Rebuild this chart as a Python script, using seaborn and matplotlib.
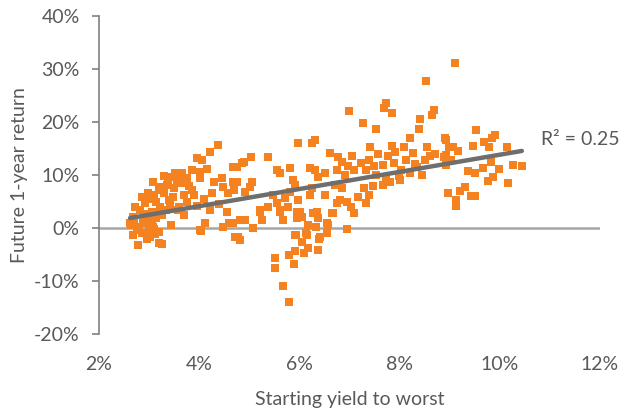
import numpy as np
import pandas as pd
import matplotlib
matplotlib.use("Agg")
import matplotlib.pyplot as plt
from matplotlib.ticker import FuncFormatter
import seaborn as sns

# Starting yield to worst (%) and future 1-year return (%)
yield_left = [4.38, 4.22, 3.96, 4.06, 3.86, 4.02, 3.52, 3.66, 3.08, 3.38, 3.66, 4.02, 4.46, 4.48, 4.68, 4.68,
              3.2, 3.3, 2.98, 3.48, 3.7, 3.86, 3.9, 4.26, 4.58, 2.92, 3.14, 3.42, 3.76, 2.82, 3.06, 4.22,
              4.56, 2.68, 3.26, 3.7, 4.12, 4.02, 4.48, 3.44, 2.62, 2.88, 3.08, 2.68, 2.92, 3.2, 2.78, 3.2,
              3.02, 3.14, 2.98, 3.34, 3.58, 4.72, 4.82, 4.92, 5.08, 5.22, 3.26, 4.04,
              2.64, 2.7, 2.75, 2.8, 2.85, 2.9, 2.95, 3.0, 3.05, 3.1, 3.15, 3.0, 3.1, 3.25, 3.35, 3.45,
              3.55, 3.6, 3.5, 3.4, 3.6, 3.8, 3.95, 4.1, 4.3, 4.4, 4.15, 3.3, 3.75, 2.95, 3.12, 2.72,
              2.85, 3.22, 4.6, 4.9]
return_left = [15.7, 14.4, 13.3, 12.9, 11.0, 10.6, 10.4, 10.4, 8.7, 9.1, 8.5, 9.5, 9.5, 7.8, 11.6, 8.7,
               7.8, 6.6, 6.6, 5.9, 6.3, 7.2, 6.3, 6.6, 6.6, 4.7, 4.9, 4.4, 4.9, 3.4, 3.0, 3.4,
               3.0, 2.1, 2.5, 2.5, 0.9, -0.4, 0.2, 0.6, 0.9, 1.1, 0.2, -1.3, -0.9, -0.8, -3.2, -2.9,
               -1.7, 1.9, 2.1, 3.4, 3.4, -1.7, -2.3, 1.5, 0.0, 3.0, -3.0, -0.6,
               0.5, 1.2, -0.3, 0.2, -1.0, 2.6, 0.9, -0.5, 1.6, -0.2, 2.8, 5.5, 6.2, 7.1, 8.2, 9.6,
               8.8, 10.0, 7.5, 5.2, 4.0, 8.0, 4.2, 5.5, 8.6, 4.5, 11.2, 9.9, 9.5, -2.0, -1.2, 4.0,
               5.8, 4.0, 1.0, 12.4]

yield_mid = [5.98, 6.26, 6.32, 5.04, 5.38, 4.76, 4.86, 5.56, 5.62, 5.82, 6.22, 6.32, 6.62, 6.78, 6.86, 6.76,
             6.52, 6.38, 4.76, 5.06, 5.02, 4.7, 4.92, 5.88, 5.92, 5.82, 6.26, 6.22, 6.52, 6.72, 6.82, 5.48,
             5.56, 5.72, 5.98, 5.38, 5.62, 5.78, 5.22, 5.96, 6.36, 6.66, 5.26, 5.96, 6.38, 6.56, 4.82, 4.68,
             6.18, 5.92, 6.16, 6.42, 4.78, 6.06, 5.68,
             5.52, 5.52, 5.68, 5.8, 5.8, 5.9, 5.92, 5.94, 6.06, 6.1, 6.14, 6.18, 6.38, 6.4, 6.96, 6.34,
             6.56, 6.58, 6.68, 7.08, 7.32, 6.76, 6.28, 5.62, 6.02]
return_mid = [16.1, 16.1, 16.7, 13.4, 13.4, 11.6, 12.3, 11.0, 10.4, 11.4, 11.4, 11.0, 14.2, 13.4, 12.5, 11.0,
              10.4, 9.7, 8.7, 8.7, 7.8, 7.2, 6.8, 9.1, 8.1, 6.8, 7.6, 6.3, 6.3, 8.1, 5.3, 6.3,
              4.7, 5.7, 5.3, 4.0, 3.0, 4.0, 3.4, 3.0, 3.0, 2.8, 1.5, 1.9, 1.9, 0.9, 1.5, 0.9,
              0.6, -1.3, -1.3, -1.7, -1.7, 2.1, 1.5,
              -5.7, -7.6, -11.0, -14.0, -5.1, -6.8, -4.4, -1.3, -2.7, -4.7, -1.0, -3.8, -4.2, -2.1, -0.2, 0.2,
              -1.0, 0.6, 2.8, 2.8, 4.7, 4.7, 2.8, 3.4, 3.0]

yield_right = [8.52, 7.72, 7.68, 7.84, 7.0, 8.68, 8.64, 7.26, 8.4, 7.52, 8.38, 8.2, 8.9, 8.54, 7.4, 7.04,
               7.84, 8.08, 8.26, 7.9, 7.56, 7.76, 8.12, 7.38, 7.22, 6.98, 7.48, 7.66, 7.88, 8.02, 7.08, 7.32,
               6.92, 7.52, 7.72, 7.98, 8.88, 8.98, 6.86, 7.28, 7.46, 7.66, 7.16, 7.38, 6.96, 7.02, 8.96,
               8.2, 8.35, 8.5, 8.6, 8.45, 8.7, 7.8, 8.0, 8.3,
               9.1, 9.52, 9.9, 9.84, 9.68, 9.06, 9.46, 9.16, 9.78, 10.14, 8.92, 9.02, 8.92, 8.92, 9.82, 9.66,
               9.36, 9.5, 9.98, 10.26, 10.44, 9.86, 9.76, 10.16, 9.3, 9.2, 9.12, 9.12, 9.42, 9.5]
return_right = [27.7, 23.6, 22.7, 21.7, 22.0, 22.3, 21.4, 19.9, 20.5, 18.7, 18.7, 16.9, 16.9, 15.2, 15.2, 13.6,
                15.5, 15.2, 14.2, 14.4, 14.0, 13.6, 12.9, 12.9, 12.3, 11.7, 11.7, 11.9, 12.3, 11.0, 11.0, 11.0,
                10.0, 10.0, 9.5, 9.8, 13.4, 15.3, 7.6, 7.6, 8.0, 8.1, 5.9, 6.3, 4.9, 4.0, 6.6,
                10.4, 11.5, 12.8, 13.6, 10.0, 14.0, 8.6, 9.0, 12.0,
                31.1, 18.4, 17.6, 16.9, 16.3, 15.3, 15.5, 14.6, 15.2, 15.2, 16.7, 12.9, 13.8, 11.9, 12.5, 11.4,
                10.8, 10.4, 11.2, 11.9, 11.7, 9.7, 8.9, 8.5, 7.8, 7.0, 5.3, 4.2, 6.1, 6.1]

r2_label = "R\u00b2 = 0.25"
x_ticks = [2, 4, 6, 8, 10, 12]
y_ticks = [-20, -10, 0, 10, 20, 30, 40]

df = pd.DataFrame({
    "yield": yield_left + yield_mid + yield_right,
    "ret": return_left + return_mid + return_right,
})

sns.set_theme(style="white")
plt.rcParams["font.family"] = ["Lato", "DejaVu Sans"]

orange = "#F58220"
text_gray = "#595959"
fsize = 14

fig = plt.figure(figsize=(6.21, 4.17), dpi=100)
ax = fig.add_axes([0.1594, 0.199, 0.8068, 0.7626])

sns.scatterplot(data=df, x="yield", y="ret", marker="s", s=32, color=orange,
                linewidth=0, ax=ax, zorder=3)
ax.axhline(0, color="#A6A6A6", lw=1.8, zorder=2)
sns.regplot(data=df, x="yield", y="ret", scatter=False, ci=None, truncate=True, ax=ax,
            line_kws={"color": "#6E6E6E", "lw": 3.2, "solid_capstyle": "round", "zorder": 4})

ax.text(10.83, 16.7, r2_label, ha="left", va="center", fontsize=fsize, color=text_gray)

ax.set_xlim(2, 12)
ax.set_ylim(-20, 40)
ax.set_xticks(x_ticks)
ax.set_yticks(y_ticks)
fmt = FuncFormatter(lambda v, p: f"{v:.0f}%")
ax.xaxis.set_major_formatter(fmt)
ax.yaxis.set_major_formatter(fmt)

for s in ["top", "right", "bottom"]:
    ax.spines[s].set_visible(False)
ax.spines["left"].set_color("#808080")
ax.spines["left"].set_linewidth(1.2)

ax.tick_params(axis="x", length=0, pad=16, labelsize=fsize, labelcolor=text_gray)
ax.tick_params(axis="y", left=True, length=5, width=1.2, color="#808080", pad=9,
               labelsize=fsize, labelcolor=text_gray)

ax.set_xlabel("Starting yield to worst", fontsize=fsize, color=text_gray, labelpad=13)
ax.set_ylabel("Future 1-year return", fontsize=fsize, color=text_gray, labelpad=4)

fig.savefig("out.png", dpi=100)
